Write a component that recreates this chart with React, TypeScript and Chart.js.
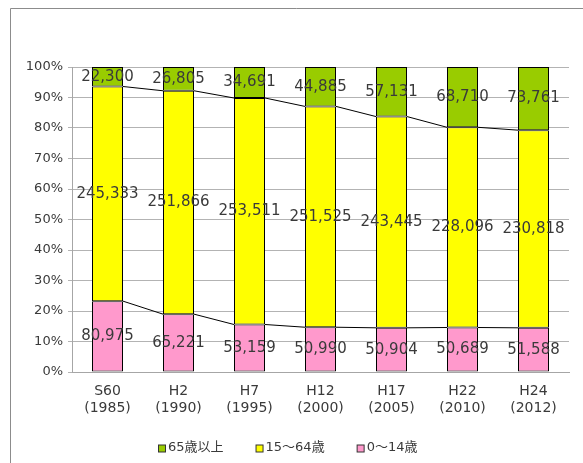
import React, { useEffect, useRef } from 'react';
import { Chart, registerables } from 'chart.js';

Chart.register(...registerables);

// ---- data ----
const categories: string[][] = [
  ['S60', '(1985)'],
  ['H2', '(1990)'],
  ['H7', '(1995)'],
  ['H12', '(2000)'],
  ['H17', '(2005)'],
  ['H22', '(2010)'],
  ['H24', '(2012)'],
];
const age0to14 = [80975, 65221, 53159, 50990, 50904, 50689, 51588];
const age15to64 = [245333, 251866, 253511, 251525, 243445, 228096, 230818];
const age65plus = [22300, 26805, 34691, 44885, 57131, 68710, 73761];
const seriesLabels = ['0〜14歳', '15〜64歳', '65歳以上'];
const seriesColors = ['#ff99cc', '#ffff00', '#99cc00'];
const legendOrder = [2, 1, 0];
const yTickMax = 100;
const yTickStep = 10;

const FONT = '"DejaVu Sans", "Noto Sans CJK JP", sans-serif';
const TEXT = '#3a3a3a';

const rawSeries = [age0to14, age15to64, age65plus];
const totals = categories.map((_, i) => rawSeries.reduce((s, arr) => s + arr[i], 0));
const percentSeries = rawSeries.map((arr) => arr.map((v, i) => (v / totals[i]) * 100));

const framePlugin = {
  id: 'frame',
  beforeDraw(chart: any) {
    const ctx = chart.ctx;
    ctx.save();
    ctx.fillStyle = '#ffffff';
    ctx.fillRect(0, 0, chart.width, chart.height);
    ctx.strokeStyle = '#8c8c8c';
    ctx.lineWidth = 1;
    ctx.beginPath();
    ctx.moveTo(10.5, chart.height);
    ctx.lineTo(10.5, 8.5);
    ctx.lineTo(chart.width, 8.5);
    ctx.stroke();
    ctx.restore();
  },
};

const seriesLinePlugin = {
  id: 'seriesLines',
  afterDatasetsDraw(chart: any) {
    const ctx = chart.ctx;
    ctx.save();
    ctx.strokeStyle = '#000000';
    ctx.lineWidth = 1;
    for (let d = 0; d < chart.data.datasets.length - 1; d++) {
      const meta = chart.getDatasetMeta(d);
      for (let i = 0; i < meta.data.length - 1; i++) {
        const a = meta.data[i];
        const b = meta.data[i + 1];
        ctx.beginPath();
        ctx.moveTo(a.x + a.width / 2, a.y);
        ctx.lineTo(b.x - b.width / 2, b.y);
        ctx.stroke();
      }
    }
    ctx.restore();
  },
};

const dataLabelPlugin = {
  id: 'dataLabels',
  afterDatasetsDraw(chart: any) {
    const ctx = chart.ctx;
    ctx.save();
    ctx.font = `15px ${FONT}`;
    ctx.fillStyle = TEXT;
    ctx.textAlign = 'center';
    ctx.textBaseline = 'middle';
    chart.data.datasets.forEach((ds: any, d: number) => {
      const meta = chart.getDatasetMeta(d);
      meta.data.forEach((el: any, i: number) => {
        const txt = ds.raw[i].toLocaleString('en-US');
        ctx.fillText(txt, el.x, (el.y + el.base) / 2);
      });
    });
    ctx.restore();
  },
};

const legendPlugin = {
  id: 'customLegend',
  afterDraw(chart: any) {
    const ctx = chart.ctx;
    ctx.save();
    ctx.font = `13px ${FONT}`;
    ctx.textBaseline = 'middle';
    ctx.textAlign = 'left';
    const box = 7;
    const gapText = 3;
    const gapItem = 32;
    const items = legendOrder.map((d) => {
      const ds = chart.data.datasets[d];
      return { label: ds.label, color: ds.backgroundColor, w: ctx.measureText(ds.label).width };
    });
    const total = items.reduce((s, it) => s + box + gapText + it.w, 0) + gapItem * (items.length - 1);
    let x = Math.round(chart.width / 2 - 4 - total / 2);
    const y = 448;
    items.forEach((it) => {
      ctx.fillStyle = it.color;
      ctx.fillRect(x + 0.5, y - box / 2 + 0.5, box, box);
      ctx.strokeStyle = '#333333';
      ctx.lineWidth = 1;
      ctx.strokeRect(x + 0.5, y - box / 2 + 0.5, box, box);
      ctx.fillStyle = TEXT;
      ctx.fillText(it.label, x + box + gapText, y);
      x += box + gapText + it.w + gapItem;
    });
    ctx.restore();
  },
};

export default function App() {
  const ref = useRef<HTMLCanvasElement | null>(null);

  useEffect(() => {
    if (!ref.current) return;
    const chart = new Chart(ref.current, {
      type: 'bar',
      data: {
        labels: categories,
        datasets: rawSeries.map((arr, d) => ({
          label: seriesLabels[d],
          data: percentSeries[d],
          raw: arr,
          backgroundColor: seriesColors[d],
          borderColor: '#000000',
          borderWidth: 1,
          borderSkipped: false,
          barPercentage: 31 / 71,
          categoryPercentage: 1,
        })) as any,
      },
      options: {
        responsive: false,
        animation: false,
        devicePixelRatio: 1,
        layout: { padding: { left: 0, right: 14, top: 67, bottom: 0 } },
        plugins: {
          legend: { display: false },
          tooltip: { enabled: false },
          title: { display: false },
        },
        scales: {
          x: {
            stacked: true,
            grid: { display: false },
            border: { display: true, color: '#a6a6a6' },
            ticks: {
              font: { family: FONT, size: 14, lineHeight: 1.2 },
              color: TEXT,
              padding: 3,
              maxRotation: 0,
              autoSkip: false,
            },
            afterFit: (scale: any) => {
              scale.height = 91;
            },
          },
          y: {
            stacked: true,
            min: 0,
            max: yTickMax,
            grid: { color: '#b3b3b3', tickLength: 4 },
            border: { display: true, color: '#a6a6a6' },
            ticks: {
              stepSize: yTickStep,
              font: { family: FONT, size: 13 },
              color: TEXT,
              padding: 5,
              callback: (v: any) => `${v}%`,
            },
            afterFit: (scale: any) => {
              scale.width = 72;
            },
          },
        },
      },
      plugins: [framePlugin, seriesLinePlugin, dataLabelPlugin, legendPlugin],
    });
    return () => chart.destroy();
  }, []);

  return (
    <canvas
      ref={ref}
      width={583}
      height={463}
      style={{ position: 'fixed', left: 0, top: 0, width: 583, height: 463, display: 'block' }}
    />
  );
}
